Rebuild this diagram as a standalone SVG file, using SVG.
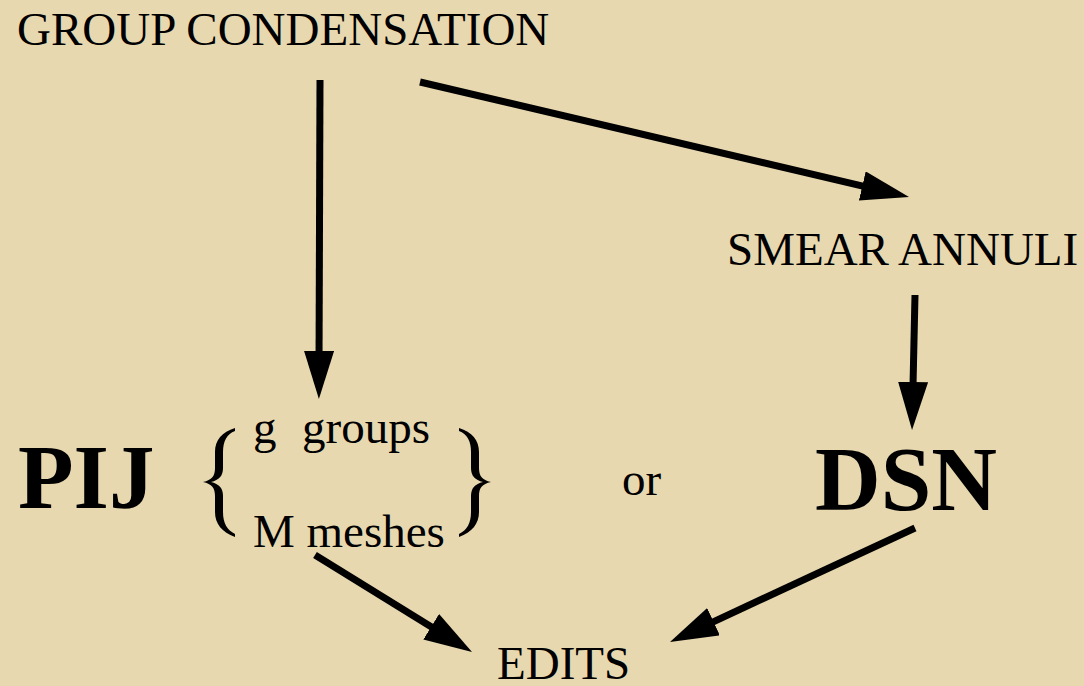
<svg xmlns="http://www.w3.org/2000/svg" width="1084" height="686" viewBox="0 0 1084 686">
<style>
.t{font-family:"Liberation Serif","Times New Roman",serif;font-size:47px;fill:#000}
.b{font-family:"Liberation Serif","Times New Roman",serif;font-size:91px;font-weight:bold;fill:#000}
.c{fill:none;stroke:#000;stroke-width:7;marker-end:url(#ah)}
</style>
<defs>
<marker id="ah" viewBox="0 0 48 30" refX="18" refY="15" markerWidth="48" markerHeight="30" markerUnits="userSpaceOnUse" orient="auto">
<path d="M0,0 L48,15 L0,30 Z" fill="#000"/>
</marker>
<path id="brace" d="M235,428 C222,432 215,440 215,452 L215,468 C215,476 212,480 203,482 C212,484 215,488 215,496 L215,512 C215,524 222,532 235,537 L235,534 C227,530 223,523 223,512 L223,496 C223,488 219,484 211,482 C219,480 223,476 223,468 L223,452 C223,441 227,434 235,431 Z" fill="#000"/>
</defs>
<rect width="1084" height="686" fill="#E8D8B0"/>
<g id="connectors">
<path class="c" d="M320,80 L319,369"/>
<path class="c" d="M420,82 L879.8,190.1"/>
<path class="c" d="M915,295 L912.7,400"/>
<path class="c" d="M315,555 L446.5,636.2"/>
<path class="c" d="M915,528 L697.2,629.3"/>
</g>
<g id="group-condensation"><text class="t" x="17" y="45">GROUP CONDENSATION</text></g>
<g id="smear-annuli"><text class="t" x="727" y="265">SMEAR ANNULI</text></g>
<g id="pij"><text class="b" x="18" y="508">PIJ</text></g>
<g id="pij-options">
<use href="#brace"/>
<use href="#brace" transform="translate(694,0) scale(-1,1)"/>
<text class="t" y="443"><tspan x="253">g</tspan><tspan x="302">groups</tspan></text>
<text class="t" x="253" y="547">M meshes</text>
</g>
<g id="or"><text class="t" x="622" y="495">or</text></g>
<g id="dsn"><text class="b" x="815" y="510">DSN</text></g>
<g id="edits"><text class="t" x="497" y="679">EDITS</text></g>
</svg>
